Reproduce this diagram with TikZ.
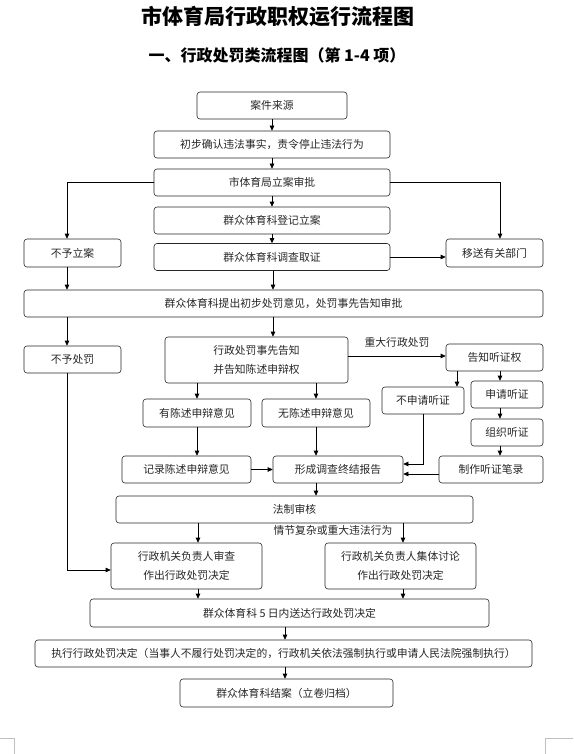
\documentclass[tikz,border=0pt]{standalone}
\usepackage{fontspec}
\setmainfont{Noto Sans CJK SC}
\usetikzlibrary{arrows.meta, positioning}

\begin{document}
\begin{tikzpicture}[x=1pt,y=-1pt,->,>={Triangle[length=5pt,width=4.5pt]},on grid,semithick,
box/.style={draw=black!85,rounded corners=3pt,line width=0.6pt,align=center,inner sep=0pt,
minimum height=27pt,font=\fontsize{10.8}{18.5}\selectfont,text=black!85},
lbl/.style={inner sep=1pt,font=\fontsize{10.8}{12}\selectfont,text=black!85}]
\useasboundingbox (0,0) rectangle (573,754);
\node[font=\bfseries\fontsize{21}{21}\selectfont] (title) at (278,17) {市体育局行政职权运行流程图};
\node[font=\bfseries\fontsize{16}{16}\selectfont] (subtitle) at (277,55) {一、行政处罚类流程图（第 1-4 项）};
% columns of the connectors
\coordinate (colL) at (67,0);
\coordinate (colM) at (273,0);
\coordinate (colA) at (198,0);
\coordinate (colB) at (403,0);
\coordinate (colH) at (457,0);
\coordinate (colR) at (500,0);
\coordinate (colD) at (285,0);
% main column
\node[box,minimum width=150pt] (src) at (272,105.5) {案件来源};
\node[box,minimum width=236pt] (confirm) [below=39pt of src] {初步确认违法事实，责令停止违法行为};
\node[box,minimum width=236pt] (approve) [below=38pt of confirm] {市体育局立案审批};
\node[box,minimum width=236pt] (register) [below=38pt of approve] {群众体育科登记立案};
\node[box,minimum width=236pt] (survey) [below=36.5pt of register] {群众体育科调查取证};
\node[box,minimum width=97pt,minimum height=28pt] (nocase) at (72.5,253) {不予立案};
\node[box,minimum width=97pt,minimum height=28pt] (transfer) at (494.5,253) {移送有关部门};
\node[box,minimum width=519pt] (propose) at (283.5,303.5) {群众体育科提出初步处罚意见，处罚事先告知审批};
\node[box,minimum width=97pt] (nopenalty) at (72.5,359.5) {不予处罚};
\node[box,minimum width=183pt,minimum height=46pt] (notify) at (256.5,360) {行政处罚事先告知\\并告知陈述申辩权};
% hearing branch
\node[box,minimum width=97pt] (hearright) at (494.5,357.5) {告知听证权};
\node[box,minimum width=82pt] (nohearing) at (423,400.5) {不申请听证};
\node[box,minimum width=72pt] (apply) at (507,394.5) {申请听证};
\node[box,minimum width=72pt] (hold) [below=38pt of apply] {组织听证};
\node[box,minimum width=104pt] (transcript) at (491,469.5) {制作听证笔录};
% statement branch
\node[box,minimum width=108pt,minimum height=28pt] (haveopinion) at (197,413) {有陈述申辩意见};
\node[box,minimum width=108pt,minimum height=28pt] (noopinion) [right=119pt of haveopinion] {无陈述申辩意见};
\node[box,minimum width=129pt] (record) at (186.5,469.5) {记录陈述申辩意见};
\node[box,minimum width=130pt] (report) at (338,469.5) {形成调查终结报告};
\node[box,minimum width=357pt] (legal) at (294.5,509.5) {法制审核};
\node[lbl] (serious) at (333,530) {情节复杂或重大违法行为};
\node[box,minimum width=151pt,minimum height=46pt] (review) at (186.5,566) {行政机关负责人审查\\作出行政处罚决定};
\node[box,minimum width=151pt,minimum height=46pt] (discuss) [right=214pt of review] {行政机关负责人集体讨论\\作出行政处罚决定};
\node[box,minimum width=399pt,minimum height=28pt] (deliver) at (289.5,613) {群众体育科 5 日内送达行政处罚决定};
\node[box,minimum width=497pt] (execute) at (283.5,653.5) {执行行政处罚决定（当事人不履行处罚决定的，行政机关依法强制执行或申请人民法院强制执行）};
\node[box,minimum width=213pt,minimum height=28pt] (close) at (286.5,693) {群众体育科结案（立卷归档）};
% connectors
\path (src) edge (confirm)
(confirm) edge (approve)
(approve) edge (register)
(register) edge (survey);
\draw (approve.west) -| (nocase.north -| colL);
\draw (approve.east) -| (transfer.north -| colR);
\draw (survey.east) -- (transfer.west |- survey.east);
\draw (nocase.south -| colL) -- (propose.north -| colL);
\draw (survey.south -| colM) -- (propose.north -| colM);
\draw (propose.south -| colL) -- (nopenalty.north -| colL);
\draw (propose.south -| colM) -- (notify.north -| colM);
\draw ([yshift=4pt]notify.east) -- ([yshift=4pt]notify.east -| hearright.west) node[lbl,midway,above=7pt] {重大行政处罚};
\draw (hearright.south -| colH) -- (nohearing.north -| colH);
\draw (hearright.south -| colR) -- (apply.north -| colR);
\draw (apply.south -| colR) -- (hold.north -| colR);
\draw (hold.south -| colR) -- (transcript.north -| colR);
\draw (notify.south -| haveopinion.north) -- (haveopinion.north);
\draw (notify.south -| noopinion.north) -- (noopinion.north);
\draw (haveopinion.south) -- (record.north -| haveopinion.south);
\draw (noopinion.south) -- (report.north -| noopinion.south);
\draw (record.east) -- (report.west);
\draw (nohearing.south) |- ([yshift=5.5pt]report.east);
\draw ([yshift=-4.5pt]transcript.west) -- ([yshift=-4.5pt]report.east);
\draw (report.south -| noopinion.south) -- (legal.north -| noopinion.south);
\draw (legal.south -| colA) -- (review.north -| colA);
\draw (legal.south -| colB) -- (discuss.north -| colB);
\draw (nopenalty.south -| colL) |- ([yshift=-4pt]review.west);
\draw (review.south -| colA) -- (deliver.north -| colA);
\draw (discuss.south -| colB) -- (deliver.north -| colB);
\draw (deliver.south -| colD) -- (execute.north -| colD);
\draw (execute.south -| colD) -- (close.north -| colD);
% page corner marks
\draw[-,gray!50,thin] (0,738) -| (14,754);
\draw[-,gray!50,thin] (573,738) -| (545,754);
\end{tikzpicture}
\end{document}
